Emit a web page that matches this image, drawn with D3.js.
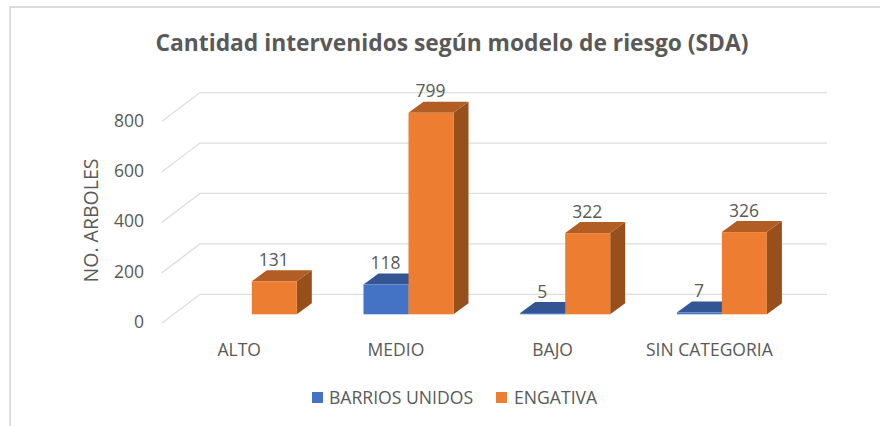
<!DOCTYPE html>
<html>
<head>
<meta charset="utf-8">
<script src="https://cdn.jsdelivr.net/npm/d3@7"></script>
<style>
  html, body { margin: 0; padding: 0; background: #fff; }
  text { font-family: "Open Sans", sans-serif; fill: #595959; }
</style>
</head>
<body>
<div id="chart"></div>
<script>
// Chart data
var categories = ["ALTO", "MEDIO", "BAJO", "SIN CATEGORIA"];
var seriesNames = ["BARRIOS UNIDOS", "ENGATIVA"];
var barriosUnidos = [null, 118, 5, 7];
var engativa = [131, 799, 322, 326];
var yTicks = [0, 200, 400, 600, 800];

var frontColors = ["#4472c4", "#ed7d31"];
var topColors = ["#335593", "#b15d24"];
var sideColors = ["#294a85", "#97501c"];

var svgWidth = 880;
var svgHeight = 426;

// Depth of the 3D floor and of the bars
var floorDx = 38.3;
var barDx = 15, barDy = 11;

var svg = d3.select("#chart")
    .append("svg")
    .attr("width", svgWidth)
    .attr("height", svgHeight)
    .style("display", "block");

// Scales: y gives the bar front, the walls are shifted from it
var yScale = d3.scaleLinear().domain([0, 800]).range([314.3, 112.6]);
var xScale = d3.scaleBand().domain(categories).range([173.4, 800.2]);
var xInner = d3.scaleBand().domain(seriesNames).range([33.4, 123.4]);

var wallLeft = 200, wallRight = 827;
var wallShift = -20;      // back wall y relative to the bar front y
var frontShift = 9;       // front floor edge y relative to the bar front y

// Chart frame, cropped by the screenshot on the right and bottom
svg.append("path")
    .attr("d", "M10,426V7H880")
    .attr("fill", "none")
    .attr("stroke", "#dcdcdc")
    .attr("stroke-width", 2);

// Gridlines on the wall and the floor
var grid = svg.append("g");
yTicks.forEach(function(t) {
    var y = yScale(t);
    grid.append("path")
        .attr("d", d3.line()([
            [wallLeft - floorDx, y + frontShift],
            [wallLeft, y + wallShift],
            [wallRight, y + wallShift]
        ]))
        .attr("fill", "none")
        .attr("stroke", "#dedede")
        .attr("stroke-width", 1.3);
});

// Draw one 3D bar: side, top, then front
function drawBar(group, x, value, i) {
    var w = xInner.bandwidth();
    var y0 = yScale(0), y1 = yScale(value);
    group.append("path")
        .attr("d", d3.line()([[x + w, y1], [x + w + barDx, y1 - barDy], [x + w + barDx, y0 - barDy], [x + w, y0]]) + "Z")
        .attr("fill", sideColors[i]);
    group.append("path")
        .attr("d", d3.line()([[x, y1], [x + barDx, y1 - barDy], [x + w + barDx, y1 - barDy], [x + w, y1]]) + "Z")
        .attr("fill", topColors[i]);
    group.append("rect")
        .attr("x", x)
        .attr("y", y1)
        .attr("width", w)
        .attr("height", y0 - y1)
        .attr("fill", frontColors[i]);
}

var bars = svg.append("g");
[barriosUnidos, engativa].forEach(function(values, i) {
    values.forEach(function(v, c) {
        if (v === null) return;
        drawBar(bars, xScale(categories[c]) + xInner(seriesNames[i]), v, i);
    });
});

// Data labels
[barriosUnidos, engativa].forEach(function(values, i) {
    values.forEach(function(v, c) {
        if (v === null) return;
        svg.append("text")
            .attr("x", xScale(categories[c]) + xInner(seriesNames[i]) + xInner.bandwidth() / 2 - 0.5)
            .attr("y", yScale(v) - 15.5)
            .attr("text-anchor", "middle")
            .attr("font-size", 17.5)
            .text(v);
    });
});

// Y tick labels
svg.append("g").selectAll("text")
    .data(yTicks)
    .enter()
    .append("text")
    .attr("x", 144)
    .attr("y", d => yScale(d) + frontShift + 5)
    .attr("text-anchor", "end")
    .attr("font-size", 17.5)
    .text(d => d);

// Category labels
svg.append("g").selectAll("text")
    .data(categories)
    .enter()
    .append("text")
    .attr("x", d => xScale(d) + xScale.bandwidth() / 2 - 12.5)
    .attr("y", 356)
    .attr("text-anchor", "middle")
    .attr("font-size", 17.5)
    .text(d => d);

// Y axis title
svg.append("text")
    .attr("transform", "translate(98, 220.5) rotate(-90)")
    .attr("text-anchor", "middle")
    .attr("font-size", 19.5)
    .text("NO. ARBOLES");

// Title
svg.append("text")
    .attr("x", 452)
    .attr("y", 51)
    .attr("text-anchor", "middle")
    .attr("font-size", 22.8)
    .attr("font-weight", 700)
    .text("Cantidad intervenidos según modelo de riesgo (SDA)");

// Legend
var legendX = [312, 496];
var legendTextX = [329, 514];
seriesNames.forEach(function(name, i) {
    svg.append("rect")
        .attr("x", legendX[i])
        .attr("y", 392)
        .attr("width", 11)
        .attr("height", 11)
        .attr("fill", frontColors[i]);
    svg.append("text")
        .attr("x", legendTextX[i])
        .attr("y", 404)
        .attr("font-size", 17.6)
        .text(name);
});
</script>
</body>
</html>
